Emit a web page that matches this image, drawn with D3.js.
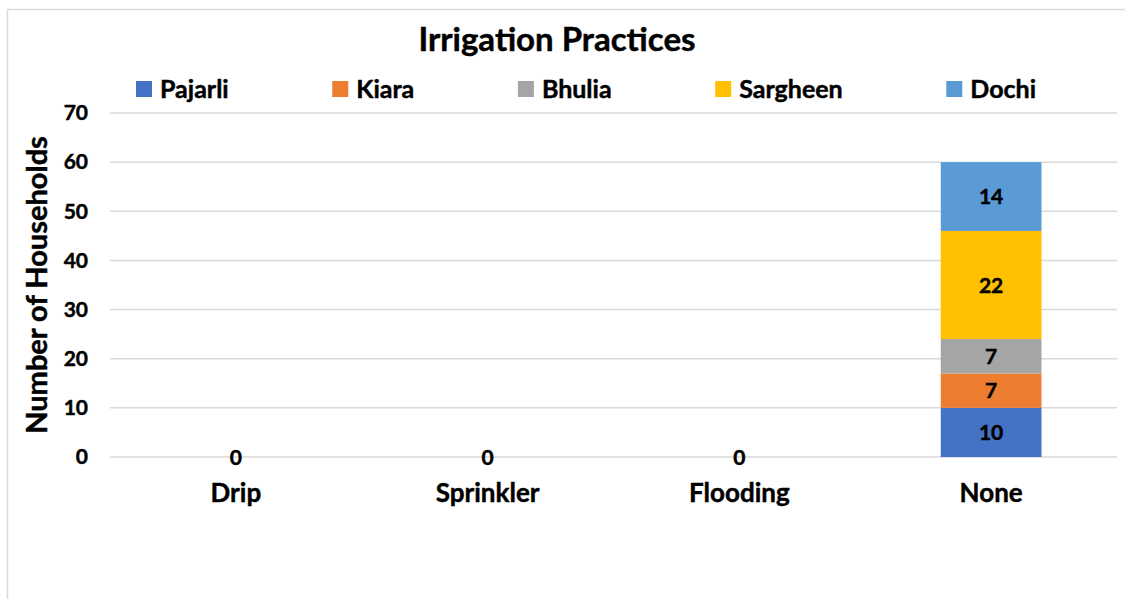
<!DOCTYPE html>
<html>
<head>
<meta charset="utf-8">
<script src="https://cdn.jsdelivr.net/npm/d3@7"></script>
<style>
html,body{margin:0;padding:0;background:#fff;}
svg{display:block;font-family:Lato,"Open Sans",sans-serif;font-weight:bold;}
.t{stroke:#000;stroke-width:0.45px;}
</style>
</head>
<body>
<svg id="chart" width="1125" height="599"></svg>
<script>
const categories = ["Drip", "Sprinkler", "Flooding", "None"];
const seriesNames = ["Pajarli", "Kiara", "Bhulia", "Sargheen", "Dochi"];
const pajarli  = [0, 0, 0, 10];
const kiara    = [0, 0, 0, 7];
const bhulia   = [0, 0, 0, 7];
const sargheen = [0, 0, 0, 22];
const dochi    = [0, 0, 0, 14];
const colors = ["#4472C4", "#ED7D31", "#A5A5A5", "#FFC000", "#5B9BD5"];
const yTicks = [0, 10, 20, 30, 40, 50, 60, 70];
const title = "Irrigation Practices";
const yTitle = "Number of Households";

const seriesValues = [pajarli, kiara, bhulia, sargheen, dochi];
const table = categories.map((c, i) => {
  const row = {category: c};
  seriesNames.forEach((s, j) => row[s] = seriesValues[j][i]);
  return row;
});

const svg = d3.select("#chart");
const W = 1125, H = 599;
const m = {left: 110, right: 8, top: 113, bottom: 142};

// outer border
svg.append("rect").attr("x", 7.5).attr("y", 9.5).attr("width", W).attr("height", H)
  .attr("fill", "none").attr("stroke", "#d9d9d9").attr("stroke-width", 1.5);

const x = d3.scaleBand().domain(categories).range([m.left, W - m.right]).paddingInner(0.6).paddingOuter(0.3);
const y = d3.scaleLinear().domain([0, 70]).range([H - m.bottom, m.top]);

// gridlines
svg.append("g").selectAll("line").data(yTicks).join("line")
  .attr("x1", m.left).attr("x2", W - m.right)
  .attr("y1", d => y(d)).attr("y2", d => y(d))
  .attr("stroke", "#d9d9d9").attr("stroke-width", 1.5);

// y axis
const yAxis = svg.append("g").attr("transform", `translate(${m.left},0)`)
  .call(d3.axisLeft(y).tickValues(yTicks).tickSize(0).tickPadding(22));
yAxis.select(".domain").remove();
yAxis.selectAll("text").attr("class", "t").attr("font-size", 21).attr("font-family", "Lato").attr("font-weight", "bold").attr("fill", "#000");

// x axis
const xAxis = svg.append("g").attr("transform", `translate(0,${y(0)})`)
  .call(d3.axisBottom(x).tickSize(0).tickPadding(27));
xAxis.select(".domain").remove();
xAxis.selectAll("text").attr("class", "t").attr("font-size", 26).attr("font-family", "Lato").attr("font-weight", "bold").attr("fill", "#000");

// stacked bars
const stack = d3.stack().keys(seriesNames)(table);
const gBars = svg.append("g");
stack.forEach((layer, j) => {
  gBars.append("g").attr("fill", colors[j]).selectAll("rect")
    .data(layer.filter(d => d[1] - d[0] > 0)).join("rect")
    .attr("x", d => x(d.data.category))
    .attr("width", x.bandwidth())
    .attr("y", d => y(d[1]))
    .attr("height", d => y(d[0]) - y(d[1]));
});

// data labels
const gLab = svg.append("g").attr("class", "t").attr("font-size", 21).attr("text-anchor", "middle").attr("fill", "#000");
stack.forEach((layer, j) => {
  gLab.append("g").selectAll("text")
    .data(layer.filter(d => d[1] - d[0] > 0)).join("text")
    .attr("x", d => x(d.data.category) + x.bandwidth() / 2)
    .attr("y", d => (y(d[0]) + y(d[1])) / 2)
    .attr("dy", "0.36em")
    .text(d => d[1] - d[0]);
});
// zero labels for empty categories
gLab.append("g").selectAll("text")
  .data(table.filter(r => d3.sum(seriesNames, s => r[s]) === 0)).join("text")
  .attr("x", d => x(d.category) + x.bandwidth() / 2)
  .attr("y", y(0)).attr("dy", "0.36em")
  .text(0);

// title
svg.append("text").attr("class", "t").attr("x", 557).attr("y", 51).attr("text-anchor", "middle")
  .attr("font-size", 33).attr("fill", "#000").text(title);

// y title
svg.append("text").attr("class", "t").attr("transform", `translate(47,${285}) rotate(-90)`)
  .attr("text-anchor", "middle").attr("font-size", 29).attr("fill", "#000").text(yTitle);

// legend
const legend = svg.append("g").attr("font-size", 25).attr("fill", "#000");
const items = legend.selectAll("g").data(seriesNames).join("g");
items.append("rect").attr("width", 16).attr("height", 16).attr("y", -8).attr("fill", (d, i) => colors[i]);
items.append("text").attr("class", "t").attr("x", 24).attr("dy", "0.36em").text(d => d);
const widths = [];
items.each(function () { widths.push(this.getBBox().width); });
const legStart = 136, legEnd = 1036;
const gap = (legEnd - legStart - d3.sum(widths)) / (widths.length - 1);
let cx = legStart;
items.attr("transform", (d, i) => {
  const t = `translate(${cx},89)`;
  cx += widths[i] + gap;
  return t;
});
</script>
</body>
</html>
